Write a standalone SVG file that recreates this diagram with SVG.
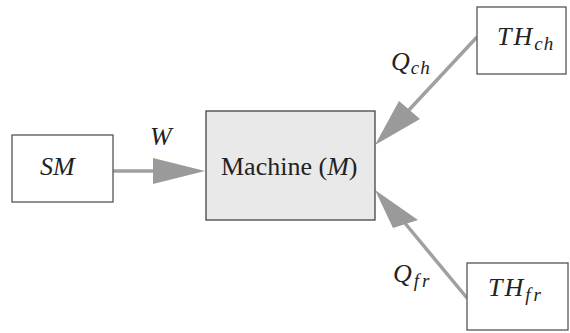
<svg xmlns="http://www.w3.org/2000/svg" width="570" height="333" viewBox="0 0 570 333">
  <style>
    .box { fill: #ffffff; stroke: #555555; stroke-width: 1.3; }
    .machine { fill: #e9e9e9; stroke: #444444; stroke-width: 1.3; }
    .flow { stroke: #a0a0a0; stroke-width: 3.5; fill: none; }
    .head { fill: #9a9a9a; }
    text { font-family: "Liberation Serif", "DejaVu Serif", serif; fill: #222222; }
    .it { font-style: italic; }
    .big { font-size: 26px; }
    .sub { font-size: 19px; letter-spacing: 1px; }
    .wide { letter-spacing: 3px; }
  </style>

  <!-- connectors: shafts and triangular heads -->
  <g id="connectors">
    <line class="flow" x1="113" y1="171" x2="156" y2="171"/>
    <polygon class="head" points="205,171 153,158 153,184"/>

    <line class="flow" x1="477" y1="37" x2="408" y2="111"/>
    <polygon class="head" points="375,145 399,101 420,119"/>

    <line class="flow" x1="467" y1="298" x2="404" y2="222"/>
    <polygon class="head" points="375,190 393,228 418,220"/>

    <text class="it big" x="150" y="145">W</text>
    <text x="391" y="70"><tspan class="it big">Q</tspan><tspan class="it sub" dx="1" dy="4">ch</tspan></text>
    <text x="393" y="282"><tspan class="it big">Q</tspan><tspan class="it sub wide" dx="2" dy="5">fr</tspan></text>
  </g>

  <g id="sm">
    <rect class="box" x="12" y="135" width="101" height="67"/>
    <text class="it big" x="40" y="175">SM</text>
  </g>

  <g id="machine">
    <rect class="machine" x="206" y="111" width="169" height="109"/>
    <text class="big" x="221" y="175" font-size="27">Machine (<tspan class="it">M</tspan>)</text>
  </g>

  <g id="th-ch">
    <rect class="box" x="477" y="7" width="89" height="67"/>
    <text x="497" y="45"><tspan class="it big" letter-spacing="2">TH</tspan><tspan class="it sub" dy="5">ch</tspan></text>
  </g>

  <g id="th-fr">
    <rect class="box" x="467" y="263" width="101" height="67"/>
    <text x="488" y="296"><tspan class="it big" letter-spacing="2">TH</tspan><tspan class="it sub wide" dy="5">fr</tspan></text>
  </g>
</svg>
